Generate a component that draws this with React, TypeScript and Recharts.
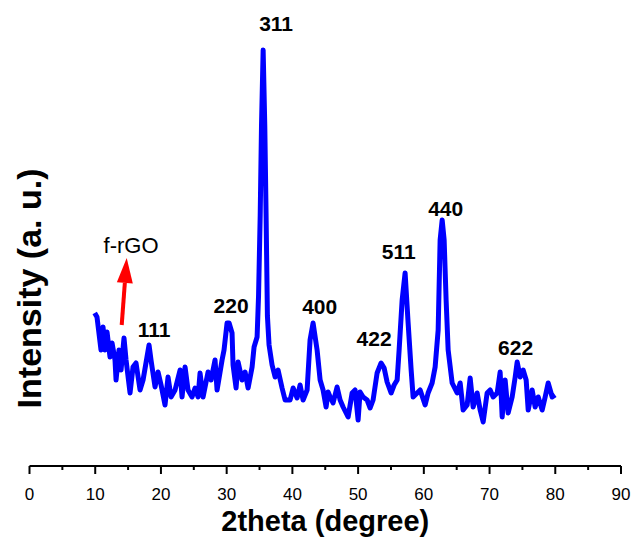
import React from "react";
import { LineChart, Line, XAxis, YAxis, ReferenceDot, ReferenceLine } from "recharts";

const FONT = '"Liberation Sans", Arial, Helvetica, sans-serif';

// 2theta positions (degree)
const twoTheta = [
  9.92, 10.27, 10.88, 11.19, 11.49, 11.8, 12.25, 12.56, 13.01, 13.17, 13.62, 13.93, 14.38, 14.69, 15.3, 15.75,
  16.21, 16.82, 17.28, 18.19, 18.49, 19.1, 19.56, 20.02, 20.62, 21.08, 21.54, 22.15, 22.45, 22.91, 23.21, 23.67,
  24.12, 24.73, 25.19, 25.65, 25.95, 26.41, 27.17, 27.63, 28.23, 28.54, 29.3, 29.6, 30.06, 30.37, 30.82, 30.97,
  31.43, 31.74, 32.34, 32.8, 33.26, 33.87, 34.17, 34.63, 34.85, 35.1, 35.3, 35.55, 35.8, 36.0, 36.2, 36.45,
  36.91, 37.37, 37.82, 38.43, 38.89, 39.65, 40.11, 40.72, 41.17, 41.63, 42.24, 42.69, 43.15, 43.76, 44.22, 44.67,
  45.13, 45.43, 45.74, 46.19, 46.8, 47.26, 47.72, 48.48, 49.09, 49.54, 50.0, 50.3, 50.76, 51.37, 51.83, 52.28,
  52.89, 53.5, 53.96, 54.41, 55.02, 55.48, 55.94, 56.24, 56.7, 57.15, 57.61, 58.07, 58.37, 58.98, 59.44, 60.2,
  60.65, 61.26, 61.72, 62.18, 62.48, 62.79, 63.09, 63.39, 63.7, 64.31, 65.07, 65.53, 65.98, 66.59, 67.05, 67.5,
  68.11, 68.57, 69.03, 69.63, 70.09, 70.55, 71.16, 71.61, 71.92, 72.37, 72.83, 73.44, 73.9, 74.2, 74.66, 75.11,
  75.57, 75.88, 76.48, 76.94, 77.4, 78.01, 78.46, 78.92, 79.53, 79.98,
];

// intensity (arbitrary units)
const intensity = [
  153, 149, 116, 139, 116, 134, 109, 123, 106, 86, 116, 96, 128, 106, 73, 99,
  103, 76, 86, 121, 106, 79, 94, 81, 61, 89, 69, 76, 84, 96, 69, 99,
  76, 69, 78, 69, 93, 69, 94, 86, 106, 76, 106, 116, 143, 143, 133, 101,
  78, 104, 86, 94, 78, 99, 119, 129, 170, 250, 340, 416, 340, 250, 150, 121,
  101, 89, 96, 78, 66, 66, 78, 68, 81, 66, 76, 126, 143, 116, 86, 76,
  59, 74, 69, 63, 79, 66, 59, 49, 73, 76, 46, 74, 69, 66, 58, 66,
  93, 103, 98, 84, 73, 81, 86, 116, 166, 193, 143, 96, 69, 73, 76, 61,
  73, 83, 99, 136, 226, 246, 226, 166, 116, 83, 73, 83, 56, 61, 88, 59,
  73, 56, 44, 73, 76, 69, 73, 94, 49, 86, 53, 69, 89, 104, 89, 96,
  86, 56, 76, 59, 69, 56, 69, 83, 69, 71,
];

const xTicks = [0, 5, 10, 15, 20, 25, 30, 35, 40, 45, 50, 55, 60, 65, 70, 75, 80, 85, 90];

// hkl labels and where they sit
const peakNames = ["111", "220", "311", "400", "422", "511", "440", "622"];
const peakLabelX = [18.95, 30.67, 37.52, 44.15, 52.43, 56.17, 63.33, 73.97];
const peakLabelY = [137, 161, 443, 160, 128, 215, 258, 119];

const rgoLabel = { text: "f-rGO", x: 15.45, y: 221 };
const rgoArrow = { fromX: 14.03, fromY: 141, toX: 14.79, toY: 208 };

const data = twoTheta.map((t, i) => ({ twoTheta: t, intensity: intensity[i] }));

const XTick = (props: any) => {
  const { x, y, payload } = props;
  const major = payload.value % 10 === 0;
  return (
    <g>
      <line x1={x} y1={y} x2={x} y2={y + (major ? 8 : 4)} stroke="#000" strokeWidth={2} />
      {major && (
        <text x={x} y={y + 34} textAnchor="middle" fontSize={17} fontFamily={FONT} fill="#000">
          {payload.value}
        </text>
      )}
    </g>
  );
};

const xTitle = (props: any) => {
  const vb = props.viewBox;
  return (
    <text x={vb.x + vb.width / 2} y={vb.y + 65} textAnchor="middle" fontSize={29} fontWeight="bold" fontFamily={FONT} fill="#000">
      2theta (degree)
    </text>
  );
};

const yTitle = (props: any) => {
  const vb = props.viewBox;
  const cx = vb.x + vb.width + 12;
  const cy = vb.y + vb.height * 0.614;
  return (
    <text x={cx} y={cy} transform={`rotate(-90, ${cx}, ${cy})`} textAnchor="middle" fontSize={34} fontWeight="bold" fontFamily={FONT} fill="#000">
      Intensity (a. u.)
    </text>
  );
};

const Arrow = (props: any) => {
  const { x1, y1, x2, y2 } = props;
  const dx = x2 - x1;
  const dy = y2 - y1;
  const len = Math.sqrt(dx * dx + dy * dy);
  const ux = dx / len;
  const uy = dy / len;
  const headLen = 25;
  const half = 8;
  const bx = x2 - ux * headLen;
  const by = y2 - uy * headLen;
  return (
    <g>
      <line x1={x1} y1={y1} x2={bx} y2={by} stroke="#FF0000" strokeWidth={4} />
      <polygon
        points={`${x2},${y2} ${bx - uy * half},${by + ux * half} ${bx + uy * half},${by - ux * half}`}
        fill="#FF0000"
      />
    </g>
  );
};

export default function App() {
  return (
    <div style={{ position: "absolute", left: 0, top: 0, background: "#fff" }}>
      <LineChart width={633} height={539} data={data} margin={{ top: 6, right: 12, bottom: 0, left: 0 }}>
        <XAxis
          dataKey="twoTheta"
          type="number"
          domain={[0, 90]}
          ticks={xTicks}
          interval={0}
          tickSize={0}
          tickMargin={0}
          tickLine={false}
          axisLine={{ stroke: "#000", strokeWidth: 2 }}
          height={73}
          tick={<XTick />}
          label={{ content: xTitle }}
        />
        <YAxis
          type="number"
          domain={[0, 460]}
          width={29.5}
          axisLine={false}
          tickLine={false}
          tick={false}
          label={{ content: yTitle }}
        />
        <Line
          type="linear"
          dataKey="intensity"
          stroke="#0000FF"
          strokeWidth={5}
          strokeLinejoin="round"
          dot={false}
          isAnimationActive={false}
        />
        {peakNames.map((name, i) => (
          <ReferenceDot
            key={name}
            x={peakLabelX[i]}
            y={peakLabelY[i]}
            r={0}
            shape={(p: any) => (
              <text x={p.cx} y={p.cy} textAnchor="middle" dominantBaseline="central" fontSize={21} fontWeight="bold" fontFamily={FONT} fill="#000">
                {name}
              </text>
            )}
          />
        ))}
        <ReferenceDot
          x={rgoLabel.x}
          y={rgoLabel.y}
          r={0}
          shape={(p: any) => (
            <text x={p.cx} y={p.cy} textAnchor="middle" dominantBaseline="central" fontSize={22} fontFamily={FONT} fill="#000">
              {rgoLabel.text}
            </text>
          )}
        />
        <ReferenceLine
          segment={[
            { x: rgoArrow.fromX, y: rgoArrow.fromY },
            { x: rgoArrow.toX, y: rgoArrow.toY },
          ]}
          shape={Arrow}
        />
      </LineChart>
    </div>
  );
}
